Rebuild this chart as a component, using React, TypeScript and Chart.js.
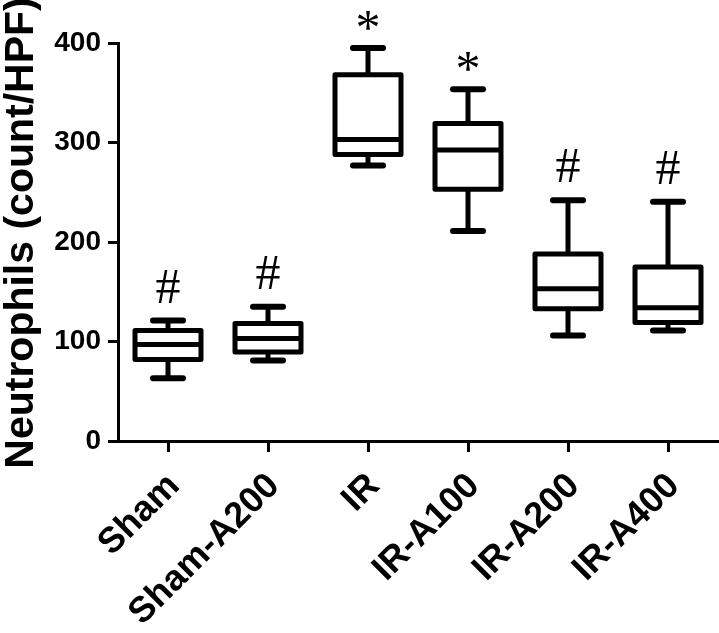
import React, { useEffect, useRef } from 'react';
import { Chart, registerables } from 'chart.js';

Chart.register(...registerables);

const categories = ['Sham', 'Sham-A200', 'IR', 'IR-A100', 'IR-A200', 'IR-A400'];
const minValues = [63, 81, 277, 211, 106, 111];
const q1Values = [82, 89.5, 288, 253, 133, 119];
const medianValues = [97, 103, 303, 292.5, 153, 134];
const q3Values = [111, 118, 368, 319, 188, 175];
const maxValues = [121, 135, 395, 353.5, 242, 240.5];
const significance = ['#', '#', '*', '*', '#', '#'];
const yTickValues = [0, 100, 200, 300, 400];
const yTitle = 'Neutrophils (count/HPF)';

const boxPlugin = {
  id: 'boxWhisker',
  afterDatasetsDraw(chart: any) {
    const meta = chart.getDatasetMeta(0);
    const ys = chart.scales.y;
    const ctx = chart.ctx;
    ctx.save();
    ctx.strokeStyle = '#000';
    ctx.fillStyle = '#000';
    const line = (x1: number, y1: number, x2: number, y2: number) => {
      ctx.beginPath();
      ctx.moveTo(x1, y1);
      ctx.lineTo(x2, y2);
      ctx.stroke();
    };
    meta.data.forEach((bar: any, i: number) => {
      const { x, width } = bar.getProps(['x', 'width'], true);
      const left = x - width / 2;
      const right = x + width / 2;
      const yMin = ys.getPixelForValue(minValues[i]);
      const yQ1 = ys.getPixelForValue(q1Values[i]);
      const yMed = ys.getPixelForValue(medianValues[i]);
      const yQ3 = ys.getPixelForValue(q3Values[i]);
      const yMax = ys.getPixelForValue(maxValues[i]);
      // whiskers
      ctx.lineWidth = 5;
      ctx.lineCap = 'butt';
      line(x, yQ3, x, yMax);
      line(x, yQ1, x, yMin);
      // caps
      ctx.lineWidth = 6;
      ctx.lineCap = 'round';
      line(x - 15, yMax, x + 15, yMax);
      line(x - 15, yMin, x + 15, yMin);
      // box
      ctx.lineWidth = 5;
      ctx.lineCap = 'butt';
      ctx.lineJoin = 'round';
      ctx.strokeRect(left, yQ3, right - left, yQ1 - yQ3);
      // median
      line(left, yMed, right, yMed);
      // significance mark
      ctx.font = '50px "Liberation Serif", "Times New Roman", serif';
      ctx.textAlign = 'center';
      ctx.textBaseline = 'alphabetic';
      const m = ctx.measureText(significance[i]);
      const inkBottom = yMax - 18;
      ctx.fillText(significance[i], x, inkBottom - m.actualBoundingBoxDescent);
    });
    ctx.restore();
  },
};

const yTitlePlugin = {
  id: 'yTitle',
  afterDraw(chart: any) {
    const ctx = chart.ctx;
    ctx.save();
    ctx.translate(33, 233);
    ctx.rotate(-Math.PI / 2);
    ctx.font = 'bold 41px "Liberation Sans", Arial, sans-serif';
    ctx.fillStyle = '#000';
    ctx.textAlign = 'center';
    ctx.textBaseline = 'alphabetic';
    ctx.fillText(yTitle, 0, 0);
    ctx.restore();
  },
};

export default function App() {
  const canvasRef = useRef<HTMLCanvasElement | null>(null);

  useEffect(() => {
    const canvas = canvasRef.current;
    if (!canvas) return;
    const chart = new Chart(canvas, {
      type: 'bar',
      data: {
        labels: categories,
        datasets: [
          {
            label: 'Neutrophils',
            data: categories.map((_, i) => [q1Values[i], q3Values[i]]) as any,
            backgroundColor: '#ffffff',
            borderWidth: 0,
            barPercentage: 0.66,
            categoryPercentage: 1,
          },
        ],
      },
      options: {
        responsive: false,
        animation: false,
        devicePixelRatio: 1,
        layout: { padding: { top: 43, right: 1, left: 0, bottom: 0 } },
        plugins: {
          legend: { display: false },
          tooltip: { enabled: false },
          title: { display: false },
        },
        scales: {
          x: {
            type: 'category',
            offset: true,
            grid: {
              display: true,
              offset: false,
              drawOnChartArea: false,
              drawTicks: true,
              tickLength: 11,
              tickWidth: 3,
              tickColor: '#000',
            },
            border: { display: true, color: '#000', width: 3 },
            ticks: {
              color: '#000',
              font: { family: '"Liberation Sans", Arial, sans-serif', weight: 'bold', size: 36 },
              minRotation: 45,
              maxRotation: 45,
              padding: 13,
              labelOffset: 6,
              autoSkip: false,
            },
            afterFit(scale: any) {
              scale.height = 192;
            },
          },
          y: {
            type: 'linear',
            min: 0,
            max: 400,
            grid: {
              display: true,
              drawOnChartArea: false,
              drawTicks: true,
              tickLength: 10,
              tickWidth: 3,
              tickColor: '#000',
            },
            border: { display: true, color: '#000', width: 3 },
            afterBuildTicks(scale: any) {
              scale.ticks = yTickValues.map((v) => ({ value: v }));
            },
            ticks: {
              color: '#000',
              font: { family: '"Liberation Sans", Arial, sans-serif', weight: 'bold', size: 28 },
              padding: 7,
            },
            afterFit(scale: any) {
              scale.width = 118;
            },
          },
        },
      },
      plugins: [boxPlugin, yTitlePlugin],
    } as any);
    return () => chart.destroy();
  }, []);

  return (
    <div style={{ position: 'fixed', left: 0, top: 0, width: 719, height: 633, background: '#fff' }}>
      <canvas ref={canvasRef} width={719} height={633} style={{ display: 'block' }} />
    </div>
  );
}
